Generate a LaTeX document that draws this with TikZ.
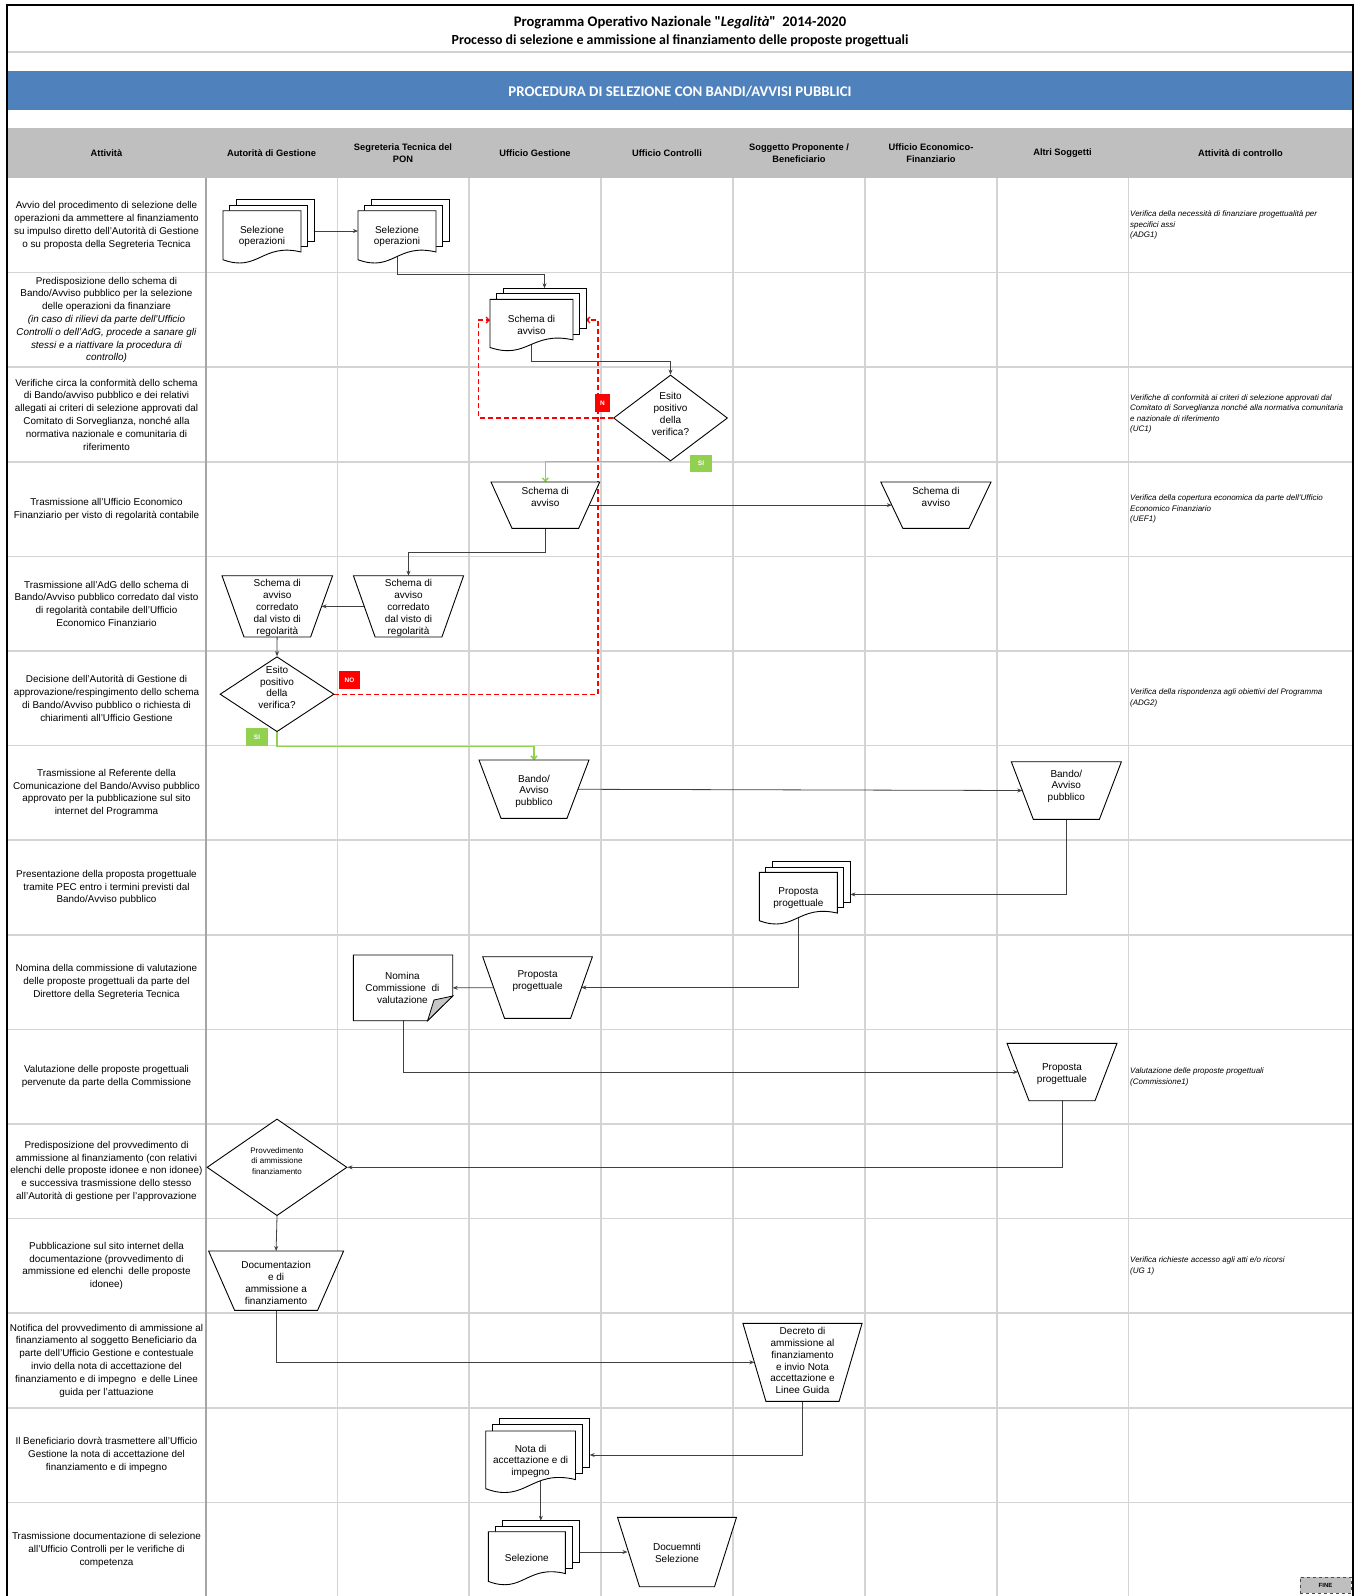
\documentclass[tikz,border=0pt]{standalone}
\usepackage{fontspec}
\setmainfont{Liberation Sans}
\newfontfamily\calibrifont{Carlito}
\usetikzlibrary{shapes.geometric,arrows.meta,calc}
\definecolor{bandblue}{HTML}{4F81BD}
\definecolor{hdrgray}{HTML}{BFBFBF}
\definecolor{gridgray}{HTML}{D4D4D4}
\definecolor{okgreen}{HTML}{92D050}
\definecolor{conngray}{HTML}{404040}
\pgfdeclarelayer{gridl}
\pgfdeclarelayer{connl}
\pgfsetlayers{gridl,connl,main}
\tikzset{
 shapeline/.style={draw=black, line width=0.9pt, fill=white, line join=miter},
 box/.style={rectangle, draw=none, inner sep=0pt, outer sep=0pt},
 stxt/.style={align=center, inner sep=0pt, font=\fontsize{10}{11.8}\selectfont},
 acttxt/.style={align=center, inner sep=0pt, font=\fontsize{9.9}{12.8}\selectfont},
 ctltxt/.style={align=left, anchor=west, inner sep=0pt, font=\fontsize{8}{10.3}\selectfont\itshape},
 hdrtxt/.style={align=center, inner sep=0pt, font=\fontsize{9.3}{12.2}\selectfont\bfseries},
 conn/.style={draw=conngray, line width=0.8pt, -{Stealth[length=5pt,width=4pt]}},
 redc/.style={draw=red, line width=1.3pt, dash pattern=on 5pt off 3pt, -{Straight Barb[length=3pt,width=6pt]}},
 greenc/.style={draw=okgreen, line width=1.5pt, -{Straight Barb[length=3pt,width=6pt]}},
 tag/.style={rectangle, inner sep=0pt, minimum height=17.5pt, text=white, font=\fontsize{6.5}{7}\selectfont\bfseries},
}
% multi-document: name, x0, y0, W, H, dx, dy, text
\newcommand\mdoc[8]{%
 \path[shapeline] (#2+2*#6,#3-2*#7) rectangle ++(#4,0.8*#5);
 \node[box, anchor=north west, minimum width=#4pt, minimum height=0.8*#5pt] (#1b) at (#2+2*#6,#3-2*#7) {};
 \path[shapeline] (#2+#6,#3-#7) rectangle ++(#4,0.8*#5);
 \path[shapeline] (#2,#3) -- (#2+#4,#3) -- (#2+#4,#3+0.8*#5) .. controls (#2+0.5*#4,#3+0.62*#5) and (#2+0.45*#4,#3+1.2*#5) .. (#2,#3+0.95*#5) -- cycle;
 \node[box, stxt, anchor=north west, minimum width=#4pt, minimum height=#5pt] (#1) at (#2,#3) {#8};
}
% trapezoid: name, x0, y0, W, H, inset, text, text raise
\newcommand\trap[8]{%
 \path[shapeline] (#2,#3) -- (#2+#4,#3) -- (#2+#4-#6,#3+#5) -- (#2+#6,#3+#5) -- cycle;
 \node[box, anchor=north west, minimum width=#4pt, minimum height=#5pt] (#1) at (#2,#3) {};
 \node[stxt] (#1t) at ([yshift=#8pt]#1.center) {#7};
}
\begin{document}
\begin{tikzpicture}[x=1pt,y=-1pt]
\useasboundingbox (0,0) rectangle (1359,1596);
\begin{pgfonlayer}{gridl}
 \fill[white] (0,0) rectangle (1359,1596);
 \fill[bandblue] (7,71) rectangle (1353,110);
 \fill[hdrgray] (7,128) rectangle (1353,178);
 \draw[gray!35, line width=1.5pt] (7,52) -- (1353,52);
 \foreach \yy in {1,...,14} \draw[gridgray, line width=1.6pt] (7,178+94.6*\yy) -- (1353,178+94.6*\yy);
 \foreach \xx in {337.5,469,601,733,865,997,1128.5} \draw[gridgray, line width=1.2pt] (\xx,178) -- (\xx,1596);
 \draw[gray!70, line width=1.5pt] (206,178) -- (206,1596);
 \draw[black, line width=2pt] (7,1596) -- (7,5) -- (1353,5) -- (1353,1596);
\end{pgfonlayer}

% titles
\node[inner sep=0pt, font=\calibrifont\fontsize{14.6}{16}\selectfont\bfseries] (title1) at (680,22.5) {Programma Operativo Nazionale "\textit{Legalità}"\ \ 2014-2020};
\node[inner sep=0pt, font=\calibrifont\fontsize{13.9}{15}\selectfont\bfseries] (title2) at (680,40.5) {Processo di selezione e ammissione al finanziamento delle proposte progettuali};
\node[inner sep=0pt, text=white, font=\calibrifont\fontsize{14.8}{16}\selectfont\bfseries] (bandtxt) at (680,91.5) {PROCEDURA DI SELEZIONE CON BANDI/AVVISI PUBBLICI};

% header labels
\node[hdrtxt] (h1) at (106.5,153.5) {Attività};
\node[hdrtxt] (h2) at (271.5,153.5) {Autorità di Gestione};
\node[hdrtxt] (h3) at (403,153.5) {Segreteria Tecnica del\\PON};
\node[hdrtxt] (h4) at (535,153.5) {Ufficio Gestione};
\node[hdrtxt] (h5) at (667,153.5) {Ufficio Controlli};
\node[hdrtxt] (h6) at (799,153.5) {Soggetto Proponente /\\Beneficiario};
\node[hdrtxt] (h7) at (931,153.5) {Ufficio Economico-\\Finanziario};
\node[hdrtxt] (h8) at (1062.5,153.5) {Altri Soggetti};
\node[hdrtxt] (h9) at (1240.5,153.5) {Attività di controllo};

% activity texts
\node[acttxt] (a1) at (106.5,225.3) {Avvio del procedimento di selezione delle\\operazioni da ammettere al finanziamento\\su impulso diretto dell'Autorità di Gestione\\o su proposta della Segreteria Tecnica};
\node[acttxt] (a2) at (106.5,319.9) {Predisposizione dello schema di\\Bando/Avviso pubblico per la selezione\\delle operazioni da finanziare\\\textit{(in caso di rilievi da parte dell'Ufficio}\\\textit{Controlli o dell'AdG, procede a sanare gli}\\\textit{stessi e a riattivare la procedura di}\\\textit{controllo)}};
\node[acttxt] (a3) at (106.5,414.5) {Verifiche circa la conformità dello schema\\di Bando/avviso pubblico e dei relativi\\allegati ai criteri di selezione approvati dal\\Comitato di Sorveglianza, nonché alla\\normativa nazionale e comunitaria di\\riferimento};
\node[acttxt] (a4) at (106.5,509.1) {Trasmissione all'Ufficio Economico\\Finanziario per visto di regolarità contabile};
\node[acttxt] (a5) at (106.5,603.7) {Trasmissione all'AdG dello schema di\\Bando/Avviso pubblico corredato dal visto\\di regolarità contabile dell'Ufficio\\Economico Finanziario};
\node[acttxt] (a6) at (106.5,698.3) {Decisione dell'Autorità di Gestione di\\approvazione/respingimento dello schema\\di Bando/Avviso pubblico o richiesta di\\chiarimenti all'Ufficio Gestione};
\node[acttxt] (a7) at (106.5,792.9) {Trasmissione al Referente della\\Comunicazione del Bando/Avviso pubblico\\approvato per la pubblicazione sul sito\\internet del Programma};
\node[acttxt] (a8) at (106.5,887.5) {Presentazione della proposta progettuale\\tramite PEC entro i termini previsti dal\\Bando/Avviso pubblico};
\node[acttxt] (a9) at (106.5,982.1) {Nomina della commissione di valutazione\\delle proposte progettuali da parte del\\Direttore della Segreteria Tecnica};
\node[acttxt] (a10) at (106.5,1076.7) {Valutazione delle proposte progettuali\\pervenute da parte della Commissione};
\node[acttxt] (a11) at (106.5,1171.3) {Predisposizione del provvedimento di\\ammissione al finanziamento (con relativi\\elenchi delle proposte idonee e non idonee)\\e successiva trasmissione dello stesso\\all'Autorità di gestione per l'approvazione};
\node[acttxt] (a12) at (106.5,1265.9) {Pubblicazione sul sito internet della\\documentazione (provvedimento di\\ammissione ed elenchi\ \ delle proposte\\idonee)};
\node[acttxt] (a13) at (106.5,1360.5) {Notifica del provvedimento di ammissione al\\finanziamento al soggetto Beneficiario da\\parte dell'Ufficio Gestione e contestuale\\invio della nota di accettazione del\\finanziamento e di impegno\ \ e delle Linee\\guida per l'attuazione};
\node[acttxt] (a14) at (106.5,1455.1) {Il Beneficiario dovrà trasmettere all'Ufficio\\Gestione la nota di accettazione del\\finanziamento e di impegno};
\node[acttxt] (a15) at (106.5,1549.7) {Trasmissione documentazione di selezione\\all'Ufficio Controlli per le verifiche di\\competenza};

% control texts
\node[ctltxt] (c1) at (1130,225) {Verifica della necessità di finanziare progettualità per\\specifici assi\\(ADG1)};
\node[ctltxt] (c3) at (1130,414) {Verifiche di conformità ai criteri di selezione approvati dal\\Comitato di Sorveglianza nonché alla normativa comunitaria\\e nazionale di riferimento\\(UC1)};
\node[ctltxt] (c4) at (1130,509) {Verifica della copertura economica da parte dell'Ufficio\\Economico Finanziario\\(UEF1)};
\node[ctltxt] (c6) at (1130,698) {Verifica della rispondenza agli obiettivi del Programma\\(ADG2)};
\node[ctltxt] (c10) at (1130,1077) {Valutazione delle proposte progettuali\\(Commissione1)};
\node[ctltxt] (c12) at (1130,1266) {Verifica richieste accesso agli atti e/o ricorsi\\(UG 1)};

% shapes
\mdoc{selA}{223}{210.7}{78}{51.6}{6.5}{5.5}{Selezione\\operazioni}
\mdoc{selS}{358}{210.7}{78}{51.6}{6.5}{5.5}{Selezione\\operazioni}
\mdoc{schemaDoc}{490}{299.3}{83}{50.7}{6.5}{5.5}{Schema di\\avviso}
\mdoc{propDoc}{759.4}{872.3}{78}{51}{6.5}{5.3}{Proposta\\progettuale}
\mdoc{notaDoc}{485.7}{1431}{89.8}{60.7}{7.1}{6.3}{Nota di\\accettazione e di\\impegno}
\mdoc{selezDoc}{488.3}{1531.7}{77}{52.3}{7}{5.5}{Selezione}

\trap{schemaT}{491}{482}{108.7}{46.3}{21}{Schema di\\avviso}{8.6}
\trap{schemaUEF}{880.8}{482}{110.2}{46.3}{22}{Schema di\\avviso}{8.6}
\trap{corrS}{353.4}{575.7}{110.2}{61.3}{21.7}{Schema di\\avviso\\corredato\\dal visto di\\regolarità}{-1.6}
\trap{corrA}{222}{575.7}{110.6}{61.3}{22}{Schema di\\avviso\\corredato\\dal visto di\\regolarità}{-1.6}
\trap{bandoUG}{479}{760}{110}{58.3}{22}{Bando/\\Avviso\\pubblico}{-2.2}
\trap{bandoAS}{1011.3}{761.7}{110.1}{57.6}{22}{Bando/\\Avviso\\pubblico}{4.2}
\trap{propUG}{482.7}{956.7}{109.7}{61.6}{21.8}{Proposta\\progettuale}{6.5}
\trap{propAS}{1007}{1043.3}{110}{57.4}{22}{Proposta\\progettuale}{-1.7}
\trap{docAdG}{208.6}{1251}{135}{59.3}{26}{Documentazion\\e di\\ammissione a\\finanziamento}{-2.3}
\trap{decreto}{742.9}{1323.3}{119.2}{78}{23}{Decreto di\\ammissione al\\finanziamento\\e invio Nota\\accettazione e\\Linee Guida}{1.6}
\trap{docSel}{617.5}{1517.3}{119}{69.4}{22}{Docuemnti\\Selezione}{-1}

% note shape
\path[shapeline] (353.4,955) -- (452.7,955) -- (452.7,996) -- (427.6,1020.7) -- (353.4,1020.7) -- cycle;
\path[draw=black, line width=0.8pt, fill=gray!45] (452.7,996) -- (434,1000) -- (427.6,1020.7) -- cycle;
\node[box, anchor=north west, minimum width=99.3pt, minimum height=65.7pt] (nomina) at (353.4,955) {};
\node[stxt] (nominat) at (402.4,987.7) {Nomina\\Commissione\ \ di\\valutazione};

% diamonds
\node[diamond, shapeline, minimum width=114pt, minimum height=86pt, inner sep=0pt] (ucDia) at (670.5,418) {};
\node[stxt] (ucDiat) at ([yshift=4pt]ucDia.center) {Esito\\positivo\\della\\verifica?};
\node[diamond, shapeline, minimum width=114pt, minimum height=75pt, inner sep=0pt] (adgDia) at (277,694.2) {};
\node[stxt] (adgDiat) at ([yshift=6.8pt]adgDia.center) {Esito\\positivo\\della\\verifica?};
\node[diamond, shapeline, minimum width=140pt, minimum height=96.7pt, inner sep=0pt] (provDia) at (277,1167.3) {};
\node[stxt, font=\fontsize{8}{10.2}\selectfont] (provDiat) at ([yshift=6.3pt]provDia.center) {Provvedimento\\di ammissione\\finanziamento};

% connectors
\begin{pgfonlayer}{connl}
 \draw[conn] ([yshift=5.5pt]selA.center) -- ([yshift=5.5pt]selS.west);
 \draw[conn] (selS.center) -- ++(0,38) -| (schemaDocb.north);
 \draw[conn] (schemaDoc.center) -- ++(0,37) -| (ucDia.north);
 \draw[redc] (ucDia.west) -| ([xshift=-11.3pt,yshift=4.65pt]schemaDoc.west) -- ([yshift=4.65pt]schemaDoc.west);
 \draw[redc] (adgDia.east) -| ([xshift=12pt,yshift=-11.4pt]schemaDocb.east) -- ([yshift=-11.4pt]schemaDocb.east);
 \draw[greenc] (ucDia.south) -| (schemaT.north);
 \draw[conn] (schemaT.center) -- ([xshift=11pt]schemaUEF.west);
 \draw[conn] (schemaT.center) -- ++(0,47) -| (corrS.north);
 \draw[conn] (corrS.center) -- ([xshift=-11pt]corrA.east);
 \draw[conn] (corrA.center) -- (adgDia.north);
 \draw[greenc] (adgDia.south) -- ++(0,14.3) -| (bandoUG.north);
 \draw[conn] (bandoUG.center) -- ([xshift=11pt]bandoAS.west);
 \draw[conn] (bandoAS.center) |- ([yshift=-12.3pt]propDocb.east);
 \draw[conn] (propDoc.center) |- ([xshift=-11pt]propUG.east);
 \draw[conn] (propUG.center) -- (nomina.east);
 \draw[conn] (nomina.center) |- ([xshift=11pt]propAS.west);
 \draw[conn] (propAS.center) |- (provDia.east);
 \draw[conn] (provDia.south) -- (docAdG.north);
 \draw[conn] (docAdG.center) |- ([xshift=11.5pt]decreto.west);
 \draw[conn] (decreto.center) |- ([yshift=-12.3pt]notaDocb.east);
 \draw[conn] (selezDocb.north |- notaDoc.center) -- (selezDocb.north);
 \draw[conn] (selezDoc.center |- docSel.west) -- ([xshift=10pt]docSel.west);
\end{pgfonlayer}

% tags
\node[tag, fill=red, minimum width=15pt] (tagN) at (602.5,403) {N};
\node[tag, fill=red, minimum width=21pt] (tagNO) at (349.5,680) {NO};
\node[tag, fill=okgreen, minimum width=22pt] (tagSI1) at (701,463.5) {SI};
\node[tag, fill=okgreen, minimum width=22pt] (tagSI2) at (257,737) {SI};
\node[rectangle, draw=black!70, dashed, fill=hdrgray, minimum width=51pt, minimum height=16pt, inner sep=0pt, font=\fontsize{6}{6}\selectfont\bfseries] (fine) at (1325.5,1585) {FINE};
\end{tikzpicture}
\end{document}
